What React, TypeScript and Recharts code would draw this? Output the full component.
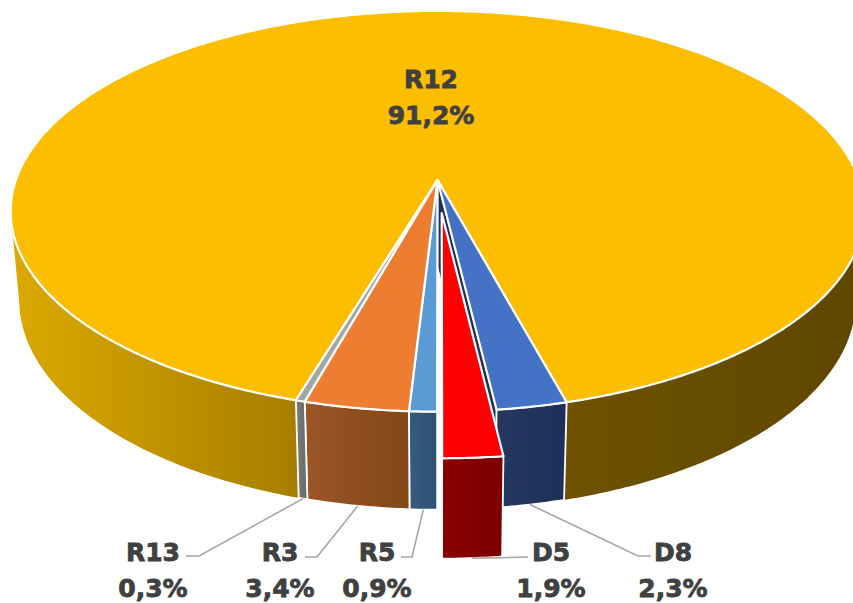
import React from "react";
import { PieChart, Pie } from "recharts";

const sliceNames = ["R12", "D8", "D5", "R5", "R3", "R13"];
const sliceValues = [91.2, 2.3, 1.9, 0.9, 3.4, 0.3];
const topColors = ["#FDBE00", "#4472C4", "#FF0000", "#5B9BD5", "#ED7D31", "#A5A5A5"];
const wallStart = ["#DCA900", "#25385F", "#8A0000", "#365C80", "#9C5526", "#7A7A7A"];
const wallEnd = ["#A67E00", "#1E3059", "#7C0000", "#2F5070", "#824819", "#6A6A6A"];
const rightWallStart = "#6E5200";
const rightWallEnd = "#5F4700";
const explodedSlices = ["D5"];
const sideFaceSlices = ["D8"];

const chartData = sliceNames.map((name, i) => ({ name, value: sliceValues[i], index: i }));

// label layout: text centre x, name baseline y, optional elbow of the leader line
const labelLayout: Record<string, { x: number; y: number; elbow?: [number, number]; end?: [number, number] }> = {
  R12: { x: 431, y: 87.5 },
  D8: { x: 673, y: 561, elbow: [638, 556], end: [651, 556] },
  D5: { x: 551, y: 561, elbow: [490, 558], end: [528, 557] },
  R5: { x: 377, y: 561, elbow: [412, 557], end: [401, 557] },
  R3: { x: 280, y: 561, elbow: [317, 557], end: [305, 557] },
  R13: { x: 153, y: 561, elbow: [199, 556], end: [186, 556] },
};

const K = 0.156;
const TOP_B = 0.4637;
const LOW_B = 0.486;
const LOW_A = 0.98;
const LOW_DROP = 87;
const EXPLODE = 0.165;
const RAD = Math.PI / 180;

function project(cx: number, cy: number, R: number, u: number, v: number, lower: boolean): [number, number] {
  const w = 1 - K * v;
  return [
    cx + (R * (lower ? LOW_A : 1) * u) / w,
    cy + (lower ? LOW_DROP : 0) + (R * (lower ? LOW_B : TOP_B) * v) / w,
  ];
}

function offsetFor(name: string, startAngle: number, endAngle: number): [number, number] {
  if (!explodedSlices.includes(name)) return [0, 0];
  const mid = ((startAngle + endAngle) / 2) * RAD;
  return [EXPLODE * Math.cos(mid), -EXPLODE * Math.sin(mid)];
}

const toPath = (pts: [number, number][]) =>
  "M" + pts.map((p) => `${p[0].toFixed(2)},${p[1].toFixed(2)}`).join("L") + "Z";

function Slice3D(props: any) {
  const { cx, cy, outerRadius: R, startAngle, endAngle, payload } = props;
  const name: string = payload.name;
  const idx: number = payload.index;
  const [du, dv] = offsetFor(name, startAngle, endAngle);
  const steps = Math.max(2, Math.ceil(Math.abs(endAngle - startAngle) * 2));
  const disc: [number, number][] = [];
  for (let i = 0; i <= steps; i++) {
    const a = (startAngle + ((endAngle - startAngle) * i) / steps) * RAD;
    disc.push([Math.cos(a) + du, -Math.sin(a) + dv]);
  }
  const runs: [number, number][][] = [];
  let run: [number, number][] = [];
  disc.forEach((p) => {
    if (p[1] >= K) run.push(p);
    else if (run.length) {
      runs.push(run);
      run = [];
    }
  });
  if (run.length) runs.push(run);

  const apexTop = project(cx, cy, R, du, dv, false);
  const topPts = disc.map((p) => project(cx, cy, R, p[0], p[1], false));
  const last = disc[disc.length - 1];

  return (
    <g>
      {sideFaceSlices.includes(name) && (
        <path
          d={toPath([
            apexTop,
            project(cx, cy, R, last[0], last[1], false),
            project(cx, cy, R, last[0], last[1], true),
            project(cx, cy, R, du, dv, true),
          ])}
          fill={wallEnd[idx]}
          stroke="#fff"
          strokeWidth={1.4}
        />
      )}
      {runs.map((r, i) => {
        const right = r[0][0] > 0.5 || r[r.length - 1][0] > 0.5;
        const id = `wall-${idx}-${i}`;
        const pts = [
          ...r.map((p) => project(cx, cy, R, p[0], p[1], false)),
          ...r
            .slice()
            .reverse()
            .map((p) => project(cx, cy, R, p[0], p[1], true)),
        ];
        return (
          <g key={id}>
            <defs>
              <linearGradient id={id} x1="0" y1="0" x2="1" y2="0">
                <stop offset="0" stopColor={right ? rightWallStart : wallStart[idx]} />
                <stop offset="1" stopColor={right ? rightWallEnd : wallEnd[idx]} />
              </linearGradient>
            </defs>
            <path d={toPath(pts)} fill={`url(#${id})`} stroke={idx === 0 ? "none" : "#fff"} strokeWidth={1.8} />
          </g>
        );
      })}
      <path
        d={toPath([apexTop, ...topPts])}
        fill={topColors[idx]}
        stroke="#fff"
        strokeWidth={2.2}
        strokeLinejoin="round"
      />
    </g>
  );
}

function SliceLabel(props: any) {
  const { cx, cy, outerRadius: R, startAngle, endAngle, payload } = props;
  const name: string = payload.name;
  const layout = labelLayout[name];
  const text = payload.value.toFixed(1).replace(".", ",") + "%";
  let line = null;
  if (layout.elbow && layout.end) {
    const [du, dv] = offsetFor(name, startAngle, endAngle);
    const mid = ((startAngle + endAngle) / 2) * RAD;
    const s = project(cx, cy, R, Math.cos(mid) + du, -Math.sin(mid) + dv, true);
    const pts = [s, layout.elbow, layout.end].map((p) => `${p[0]},${p[1]}`).join(" ");
    line = <polyline points={pts} fill="none" stroke="#A6A6A6" strokeWidth={1.6} />;
  }
  return (
    <g>
      {line}
      <text
        x={layout.x}
        textAnchor="middle"
        fontFamily="'DejaVu Sans', sans-serif"
        fontWeight="bold"
        fontSize={25}
        fill="#404040"
        stroke="#404040"
        strokeWidth={0.8}
      >
        <tspan x={layout.x} y={layout.y}>
          {name}
        </tspan>
        <tspan x={layout.x} y={layout.y + 36}>
          {text}
        </tspan>
      </text>
    </g>
  );
}

export default function App() {
  return (
    <div style={{ position: "absolute", left: 0, top: 0, width: 853, height: 603, background: "#fff" }}>
      <PieChart width={853} height={603} margin={{ top: 0, right: 0, bottom: 0, left: 0 }}>
        <Pie
          data={chartData}
          dataKey="value"
          nameKey="name"
          cx={437.5}
          cy={180}
          innerRadius={0}
          outerRadius={421.6}
          startAngle={-106.6}
          endAngle={-466.6}
          isAnimationActive={false}
          shape={(p: any) => <Slice3D {...p} />}
          label={(p: any) => <SliceLabel {...p} />}
          labelLine={false}
        />
      </PieChart>
    </div>
  );
}
